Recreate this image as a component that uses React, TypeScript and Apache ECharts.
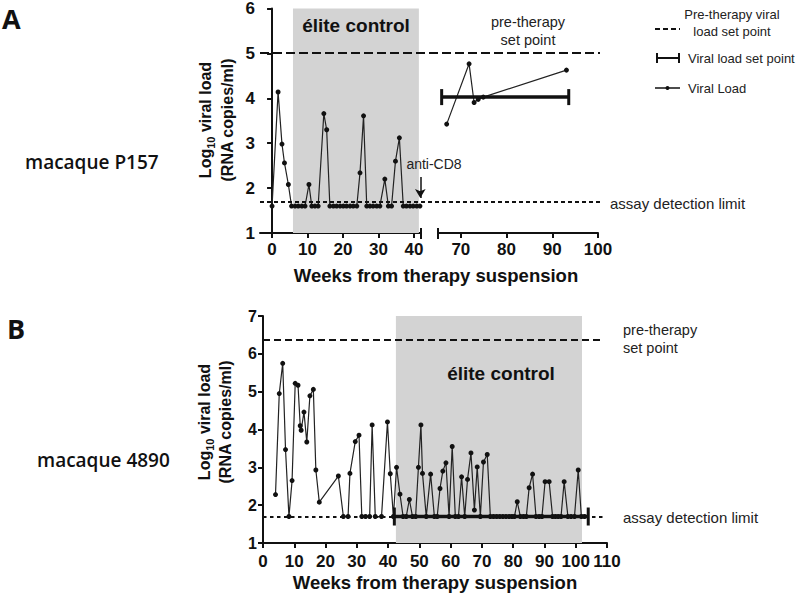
import { useEffect, useRef } from 'react';
import * as echarts from 'echarts';

const FONT = '"Liberation Sans", Arial, Helvetica, sans-serif';
const LABEL_FONT = '"Open Sans", "Liberation Sans", sans-serif';

// ---------- Panel A (macaque P157) ----------
const A_LEFT_WEEKS = [0, 1.7, 2.8, 3.5, 4.6, 5.5, 6.5, 7.4, 8.4, 9.3, 10.4, 11.2, 12.1, 13.0, 14.6, 15.4,
  16.3, 17.3, 18.2, 19.2, 20.1, 21.0, 22.0, 22.9, 23.9, 24.8, 25.8, 26.7, 27.6, 28.5, 29.5, 30.4,
  31.8, 32.8, 33.7, 34.8, 35.9, 37.0, 37.9, 38.9, 39.8, 40.8, 41.7];
const A_LEFT_VL = [1.6, 4.14, 2.98, 2.56, 2.08, 1.6, 1.6, 1.6, 1.6, 1.6, 2.08, 1.6, 1.6, 1.6, 3.66, 3.3,
  1.6, 1.6, 1.6, 1.6, 1.6, 1.6, 1.6, 1.6, 1.6, 2.34, 3.61, 1.6, 1.6, 1.6, 1.6, 1.6,
  2.2, 1.6, 1.6, 2.6, 3.12, 1.6, 1.6, 1.6, 1.6, 1.6, 1.6];
const A_RIGHT_WEEKS = [66.9, 71.8, 72.9, 73.8, 74.9, 93.1];
const A_RIGHT_VL = [3.42, 4.76, 3.9, 3.97, 4.02, 4.62];
const A_SETPOINT_WEEKS = [65.8, 93.6];
const A_SETPOINT_VL = 4.02;
const A_PRETHERAPY = 5;
const A_ELITE = [5.9, 41.4];
const A_XTICKS_LEFT = [0, 10, 20, 30, 40];
const A_XTICKS_RIGHT = [70, 80, 90, 100];
const A_ANTICD8 = { week: 41.8, from: 2.25, to: 1.78 };

// ---------- Panel B (macaque 4890) ----------
const B_WEEKS = [4, 5.2, 6.3, 7.2, 8.3, 9.3, 10.3, 11.2, 11.9, 12.2, 13.1, 14.0, 15.0, 16.1, 16.9, 18.0,
  24.1, 25.7, 27.2, 27.8, 29.5, 30.7, 31.6, 32.8, 34.1, 34.9, 35.9, 37.9, 39.8, 40.7, 41.7,
  42.7, 43.8, 44.8, 45.8, 46.8, 47.8, 48.8, 49.7, 50.5, 51.0, 52.2, 53.6, 54.8, 55.7, 56.6, 57.5,
  58.5, 59.5, 60.5, 61.5, 62.5, 63.5, 64.5, 65.4, 66.5, 67.6, 68.5, 69.5, 70.5, 71.7, 72.7,
  73.7, 74.7, 75.7, 76.7, 77.7, 78.7, 79.6, 80.4, 81.3, 82.3, 83.3, 84.2, 85.1, 86.2, 87.3,
  88.3, 89.2, 90.2, 91.5, 92.6, 93.5, 94.4, 95.3, 96.3, 97.5, 98.5, 99.6, 100.8, 101.8, 102.8];
const B_VL = [2.28, 4.95, 5.75, 3.47, 1.7, 2.65, 5.22, 5.17, 4.1, 3.98, 4.46, 3.67, 4.89, 5.06, 2.93, 2.08,
  2.77, 1.7, 1.7, 2.84, 3.68, 3.85, 1.7, 1.7, 1.7, 4.12, 1.7, 1.7, 4.2, 2.83, 1.7,
  3.0, 2.29, 1.7, 1.7, 2.15, 1.7, 1.7, 3.0, 4.12, 2.84, 1.7, 2.82, 1.7, 1.7, 2.44, 2.9,
  3.12, 1.7, 3.55, 1.7, 1.7, 2.75, 1.7, 2.68, 3.38, 1.87, 3.01, 1.7, 3.14, 3.34, 1.7,
  1.7, 1.7, 1.7, 1.7, 1.7, 1.7, 1.7, 1.7, 2.09, 1.7, 1.7, 1.7, 2.46, 2.82, 1.7,
  1.7, 1.7, 2.62, 2.62, 1.7, 1.7, 1.7, 1.7, 2.62, 1.7, 1.7, 1.7, 2.93, 1.7, 1.7];
const B_SETPOINT_WEEKS = [42, 104];
const B_SETPOINT_VL = 1.7;
const B_PRETHERAPY = 6.37;
const B_ELITE = [42.5, 102];

const DETECTION_LIMIT = 1.7;

const INK = '#111';

const axisLine = { show: true, lineStyle: { color: INK, width: 2 } };
const axisTick = { show: true, length: 5, lineStyle: { color: INK, width: 2 } };
const tickLabel = { fontSize: 17, fontWeight: 'bold', color: INK, fontFamily: FONT };

function pairs(xs: number[], ys: number[]) {
  return xs.map((x, i) => [x, ys[i]]);
}

function vlSeries(xi: number, data: number[][], extra: any = {}) {
  return {
    type: 'line',
    xAxisIndex: xi,
    yAxisIndex: xi,
    data,
    symbol: 'circle',
    symbolSize: 5,
    showSymbol: true,
    lineStyle: { color: '#222', width: 1.2 },
    itemStyle: { color: INK },
    z: 3,
    ...extra,
  };
}

function setPointSeries(xi: number, weeks: number[], v: number, capH: number) {
  return {
    type: 'line',
    xAxisIndex: xi,
    yAxisIndex: xi,
    data: weeks.map((w) => [w, v]),
    symbol: 'rect',
    symbolSize: [3, capH],
    showSymbol: true,
    lineStyle: { color: INK, width: 3.5 },
    itemStyle: { color: INK },
    z: 4,
  };
}

function refLines(xi: number, pre: number, preDash: number[], lodDash: number[]) {
  return {
    type: 'line',
    xAxisIndex: xi,
    yAxisIndex: xi,
    data: [],
    markLine: {
      silent: true,
      symbol: 'none',
      label: { show: false },
      data: [
        { yAxis: pre, lineStyle: { color: INK, width: 2, type: preDash } },
        { yAxis: DETECTION_LIMIT, lineStyle: { color: INK, width: 2, type: lodDash } },
      ],
    },
  };
}

const graphics: any[] = [
  // panel letters
  { type: 'text', x: 2, y: 18, style: { text: 'A', fontSize: 27, lineHeight: 28, fontWeight: 'bold', fontFamily: LABEL_FONT, fill: INK, verticalAlign: 'middle' } },
  { type: 'text', x: 7, y: 328, style: { text: 'B', fontSize: 27, lineHeight: 28, fontWeight: 'bold', fontFamily: LABEL_FONT, fill: INK, verticalAlign: 'middle' } },
  // macaque labels
  { type: 'text', x: 25, y: 162, style: { text: 'macaque P157', fontSize: 19, fontWeight: 600, fontFamily: LABEL_FONT, fill: INK, verticalAlign: 'middle' } },
  { type: 'text', x: 37, y: 460, style: { text: 'macaque 4890', fontSize: 19, fontWeight: 600, fontFamily: LABEL_FONT, fill: INK, verticalAlign: 'middle' } },
  // y axis titles
  {
    type: 'text', x: 216, y: 120, rotation: Math.PI / 2,
    style: {
      text: '{b|Log}{s|10}{b| viral load}\n{b|(RNA copies/ml)}',
      align: 'center', verticalAlign: 'middle', fill: INK,
      rich: {
        b: { fontSize: 16, fontWeight: 'bold', fontFamily: FONT, lineHeight: 22, fill: INK },
        s: { fontSize: 11, fontWeight: 'bold', fontFamily: FONT, lineHeight: 13, verticalAlign: 'bottom', fill: INK },
      },
    },
  },
  {
    type: 'text', x: 215, y: 422, rotation: Math.PI / 2,
    style: {
      text: '{b|Log}{s|10}{b| viral load}\n{b|(RNA copies/ml)}',
      align: 'center', verticalAlign: 'middle', fill: INK,
      rich: {
        b: { fontSize: 16, fontWeight: 'bold', fontFamily: FONT, lineHeight: 21, fill: INK },
        s: { fontSize: 11, fontWeight: 'bold', fontFamily: FONT, lineHeight: 13, verticalAlign: 'bottom', fill: INK },
      },
    },
  },
  // panel A x-axis title
  { type: 'text', x: 436, y: 275, style: { text: 'Weeks from therapy suspension', fontSize: 18.5, fontWeight: 'bold', fontFamily: FONT, fill: INK, align: 'center', verticalAlign: 'middle' } },
  // axis break caps
  { type: 'line', shape: { x1: 421, y1: 228, x2: 421, y2: 239 }, style: { stroke: INK, lineWidth: 2 } },
  { type: 'line', shape: { x1: 438, y1: 228, x2: 438, y2: 239 }, style: { stroke: INK, lineWidth: 2 } },
  // elite control labels
  { type: 'text', x: 356, y: 25, style: { text: 'élite control', fontSize: 19, fontWeight: 'bold', fontFamily: FONT, fill: INK, align: 'center', verticalAlign: 'middle' } },
  { type: 'text', x: 501, y: 373, style: { text: 'élite control', fontSize: 19, fontWeight: 'bold', fontFamily: FONT, fill: INK, align: 'center', verticalAlign: 'middle' } },
  // annotations panel A
  { type: 'text', x: 528, y: 31, style: { text: 'pre-therapy\nset point', fontSize: 14.5, fontFamily: FONT, fill: '#222', align: 'center', verticalAlign: 'middle', lineHeight: 18 } },
  { type: 'text', x: 610, y: 203, style: { text: 'assay detection limit', fontSize: 15, fontFamily: FONT, fill: '#222', verticalAlign: 'middle' } },
  { type: 'text', x: 434, y: 164, style: { text: 'anti-CD8', fontSize: 14, fontFamily: FONT, fill: '#222', align: 'center', verticalAlign: 'middle' } },
  // annotations panel B
  { type: 'text', x: 623, y: 339, style: { text: 'pre-therapy\nset point', fontSize: 14.5, fontFamily: FONT, fill: '#222', verticalAlign: 'middle', lineHeight: 18 } },
  { type: 'text', x: 623, y: 517, style: { text: 'assay detection limit', fontSize: 15, fontFamily: FONT, fill: '#222', verticalAlign: 'middle' } },
  // legend
  { type: 'line', shape: { x1: 655, y1: 29, x2: 680, y2: 29 }, style: { stroke: INK, lineWidth: 2, lineDash: [5, 3] } },
  { type: 'text', x: 732, y: 23, style: { text: 'Pre-therapy viral\nload set point', fontSize: 13, fontFamily: FONT, fill: '#222', align: 'center', verticalAlign: 'middle', lineHeight: 17 } },
  { type: 'line', shape: { x1: 657, y1: 58, x2: 679, y2: 58 }, style: { stroke: INK, lineWidth: 2 } },
  { type: 'line', shape: { x1: 657, y1: 53, x2: 657, y2: 63 }, style: { stroke: INK, lineWidth: 2 } },
  { type: 'line', shape: { x1: 679, y1: 53, x2: 679, y2: 63 }, style: { stroke: INK, lineWidth: 2 } },
  { type: 'text', x: 688, y: 58, style: { text: 'Viral load set point', fontSize: 13, fontFamily: FONT, fill: '#222', verticalAlign: 'middle' } },
  { type: 'line', shape: { x1: 655, y1: 88, x2: 680, y2: 88 }, style: { stroke: INK, lineWidth: 1.5 } },
  { type: 'circle', shape: { cx: 667.5, cy: 88, r: 2 }, style: { fill: INK } },
  { type: 'text', x: 688, y: 88, style: { text: 'Viral Load', fontSize: 13, fontFamily: FONT, fill: '#222', verticalAlign: 'middle' } },
].map((g) => ({ ...g, z: 100 }));

const option: any = {
  animation: false,
  backgroundColor: '#fff',
  grid: [
    { left: 260, top: 8, width: 161, height: 225 },
    { left: 438, top: 8, width: 160, height: 225 },
    { left: 260, top: 8, width: 340, height: 225 },
    { left: 263, top: 316, width: 344, height: 227 },
    { left: 263, top: 316, width: 340, height: 227 },
  ],
  xAxis: [
    {
      gridIndex: 0, type: 'value', min: -3.4, max: 42,
      axisLine, axisTick: { ...axisTick, customValues: A_XTICKS_LEFT },
      axisLabel: { ...tickLabel, margin: 8, customValues: A_XTICKS_LEFT },
      splitLine: { show: false },
    },
    {
      gridIndex: 1, type: 'value', min: 65, max: 100,
      axisLine, axisTick: { ...axisTick, customValues: A_XTICKS_RIGHT },
      axisLabel: { ...tickLabel, margin: 8, customValues: A_XTICKS_RIGHT },
      splitLine: { show: false },
    },
    { gridIndex: 2, type: 'value', min: 0, max: 1, show: false },
    {
      gridIndex: 3, type: 'value', min: 0, max: 110, interval: 10,
      axisLine, axisTick, axisLabel: { ...tickLabel, margin: 10 },
      splitLine: { show: false },
      name: 'Weeks from therapy suspension', nameLocation: 'middle', nameGap: 30,
      nameTextStyle: { fontSize: 18.5, fontWeight: 'bold', color: INK, fontFamily: FONT },
    },
    { gridIndex: 4, type: 'value', min: 0, max: 1, show: false },
  ],
  yAxis: [
    {
      gridIndex: 0, type: 'value', min: 1, max: 6, interval: 1,
      axisLine, axisTick, axisLabel: { ...tickLabel, margin: 5 },
      splitLine: { show: false },
    },
    { gridIndex: 1, type: 'value', min: 1, max: 6, show: false },
    { gridIndex: 2, type: 'value', min: 1, max: 6, show: false },
    {
      gridIndex: 3, type: 'value', min: 1, max: 7, interval: 1,
      axisLine, axisTick, axisLabel: { ...tickLabel, fontSize: 16, margin: 6 },
      splitLine: { show: false },
    },
    { gridIndex: 4, type: 'value', min: 1, max: 7, show: false },
  ],
  series: [
    refLines(2, A_PRETHERAPY, [9, 4], [4, 3]),
    refLines(4, B_PRETHERAPY, [7, 4], [3.5, 3.5]),
    vlSeries(0, pairs(A_LEFT_WEEKS, A_LEFT_VL), {
      markArea: {
        silent: true,
        itemStyle: { color: '#d3d3d3' },
        data: [[{ xAxis: A_ELITE[0] }, { xAxis: A_ELITE[1] }]],
      },
      markLine: {
        silent: true,
        symbol: ['none', 'arrow'],
        symbolSize: [8, 9],
        label: { show: false },
        lineStyle: { color: INK, width: 1.5, type: 'solid' },
        data: [[{ coord: [A_ANTICD8.week, A_ANTICD8.from] }, { coord: [A_ANTICD8.week, A_ANTICD8.to] }]],
      },
    }),
    vlSeries(1, pairs(A_RIGHT_WEEKS, A_RIGHT_VL)),
    setPointSeries(1, A_SETPOINT_WEEKS, A_SETPOINT_VL, 16),
    vlSeries(3, pairs(B_WEEKS, B_VL), {
      markArea: {
        silent: true,
        itemStyle: { color: '#d3d3d3' },
        data: [[{ xAxis: B_ELITE[0] }, { xAxis: B_ELITE[1] }]],
      },
    }),
    setPointSeries(3, B_SETPOINT_WEEKS, B_SETPOINT_VL, 18),
  ],
  graphic: graphics,
};

export default function App() {
  const ref = useRef<HTMLDivElement>(null);
  useEffect(() => {
    const chart = echarts.init(ref.current!, null, { renderer: 'svg' });
    chart.setOption(option);
    return () => chart.dispose();
  }, []);
  return <div ref={ref} style={{ position: 'absolute', left: 0, top: 0, width: 800, height: 598 }} />;
}
